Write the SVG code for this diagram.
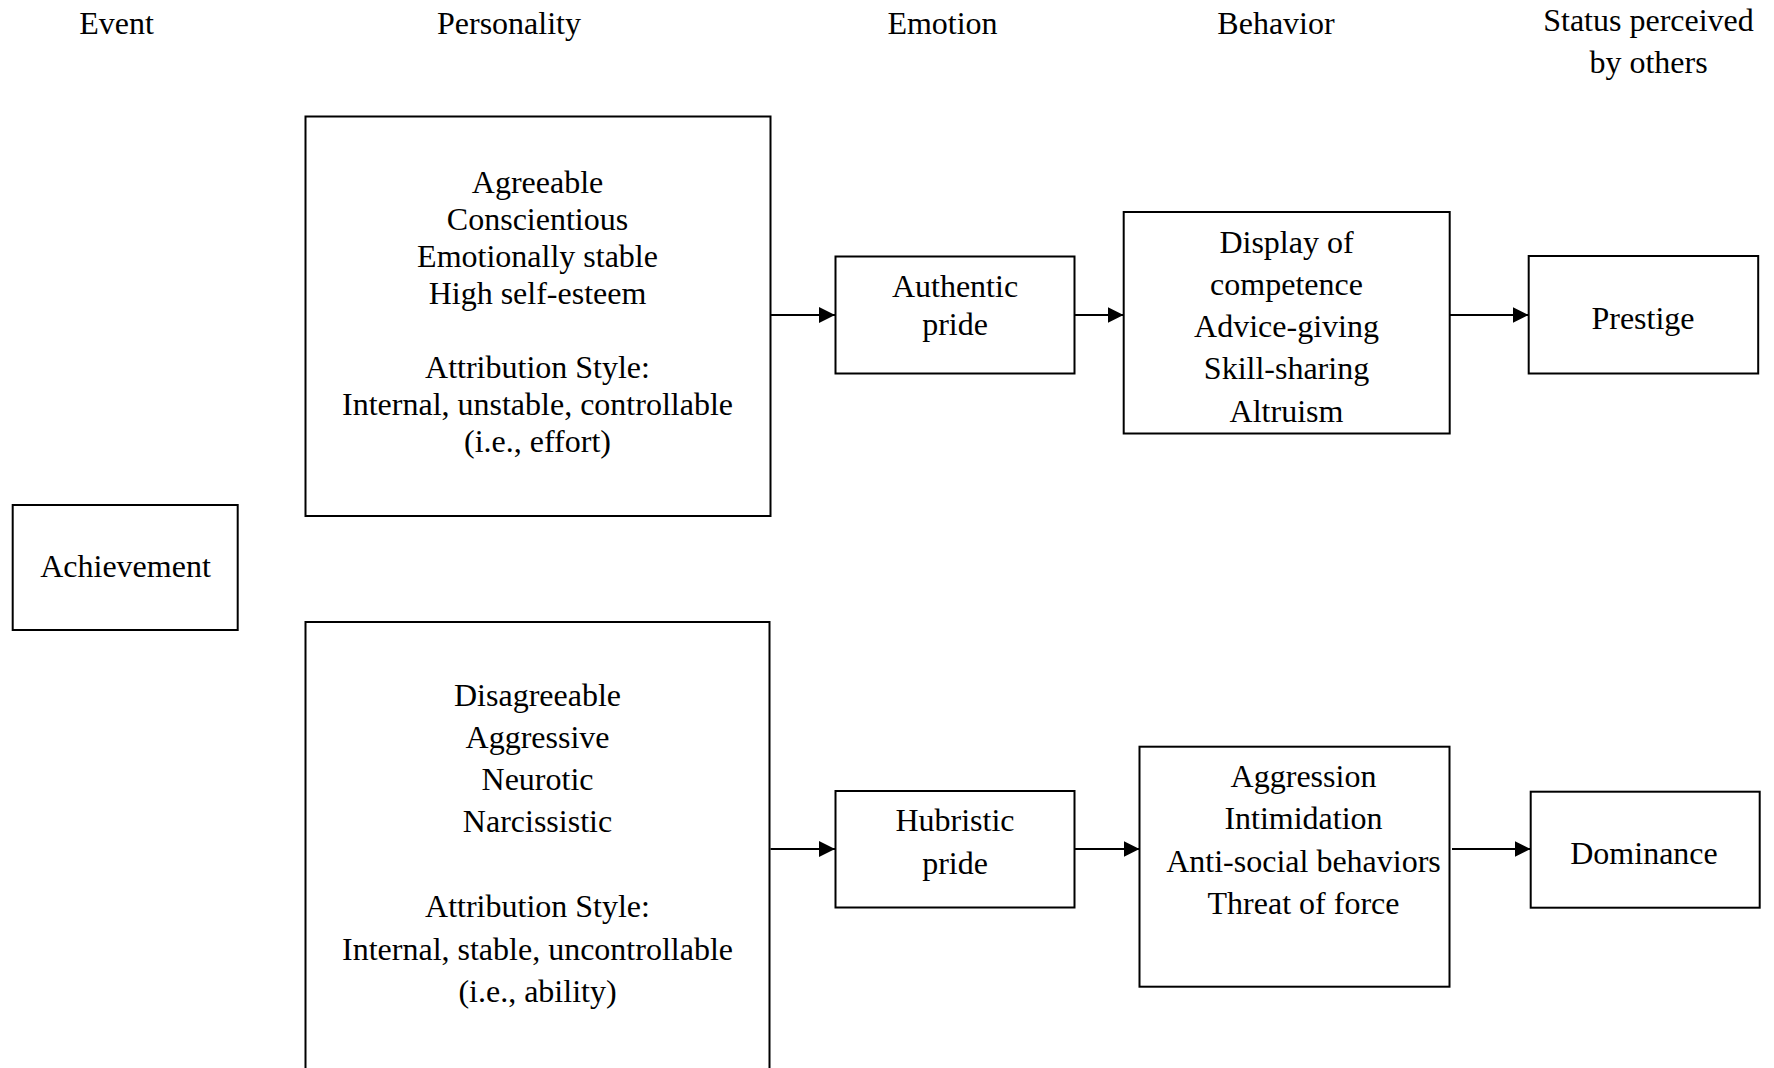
<svg xmlns="http://www.w3.org/2000/svg" width="1774" height="1068" viewBox="0 0 1774 1068">
<style>
text{font-family:"Liberation Serif","Times New Roman",serif;font-size:32px;fill:#000;text-anchor:middle}
.box{fill:#fff;stroke:#000;stroke-width:2}
.conn{stroke:#000;stroke-width:2;fill:none}
</style>
<defs>
<marker id="arr" markerUnits="userSpaceOnUse" markerWidth="17" markerHeight="17" refX="16" refY="8.5" orient="auto">
<path d="M0,0.5 L16,8.5 L0,16.5 Z" fill="#000"/>
</marker>
</defs>
<rect width="1774" height="1068" fill="#fff"/>
<g id="headers">
<text x="116.5" y="33.5">Event</text>
<text x="509" y="33.5">Personality</text>
<text x="942.5" y="33.5">Emotion</text>
<text x="1276" y="33.5">Behavior</text>
<text x="1648.5" y="31">Status perceived</text>
<text x="1648.5" y="73">by others</text>
</g>
<g id="connectors">
<line class="conn" x1="770.5" y1="315" x2="835" y2="315" marker-end="url(#arr)"/>
<line class="conn" x1="1075" y1="315" x2="1123.5" y2="315" marker-end="url(#arr)"/>
<line class="conn" x1="1450" y1="315" x2="1528.5" y2="315" marker-end="url(#arr)"/>
<line class="conn" x1="770.5" y1="849" x2="835" y2="849" marker-end="url(#arr)"/>
<line class="conn" x1="1075" y1="849" x2="1139.5" y2="849" marker-end="url(#arr)"/>
<line class="conn" x1="1452" y1="849" x2="1530.5" y2="849" marker-end="url(#arr)"/>
</g>
<g id="achievement">
<rect class="box" x="12.7" y="505" width="225" height="125"/>
<text x="125.5" y="577">Achievement</text>
</g>
<g id="personality-top">
<rect class="box" x="305.5" y="116.5" width="465" height="399.5"/>
<text x="537.5" y="192.5">Agreeable</text>
<text x="537.5" y="229.5">Conscientious</text>
<text x="537.5" y="266.5">Emotionally stable</text>
<text x="537.5" y="303.5">High self-esteem</text>
<text x="537.5" y="377.5">Attribution Style:</text>
<text x="537.5" y="414.5">Internal, unstable, controllable</text>
<text x="537.5" y="451.5">(i.e., effort)</text>
</g>
<g id="personality-bottom">
<rect class="box" x="305.5" y="622" width="464" height="460"/>
<text x="537.5" y="705.5">Disagreeable</text>
<text x="537.5" y="747.5">Aggressive</text>
<text x="537.5" y="789.5">Neurotic</text>
<text x="537.5" y="832">Narcissistic</text>
<text x="537.5" y="917">Attribution Style:</text>
<text x="537.5" y="959.5">Internal, stable, uncontrollable</text>
<text x="537.5" y="1001.5">(i.e., ability)</text>
</g>
<g id="authentic-pride">
<rect class="box" x="835.5" y="256.5" width="239" height="117"/>
<text x="955" y="297">Authentic</text>
<text x="955" y="334.5">pride</text>
</g>
<g id="hubristic-pride">
<rect class="box" x="835.5" y="791" width="239" height="116.5"/>
<text x="955" y="831">Hubristic</text>
<text x="955" y="874">pride</text>
</g>
<g id="behavior-top">
<rect class="box" x="1123.7" y="212" width="326" height="221.5"/>
<text x="1286.5" y="253">Display of</text>
<text x="1286.5" y="294.5">competence</text>
<text x="1286.5" y="336.5">Advice-giving</text>
<text x="1286.5" y="378.5">Skill-sharing</text>
<text x="1286.5" y="421.5">Altruism</text>
</g>
<g id="behavior-bottom">
<rect class="box" x="1139.5" y="746.7" width="310" height="240"/>
<text x="1303.5" y="787">Aggression</text>
<text x="1303.5" y="828.5">Intimidation</text>
<text x="1303.5" y="871.5">Anti-social behaviors</text>
<text x="1303.5" y="913.5">Threat of force</text>
</g>
<g id="prestige">
<rect class="box" x="1528.7" y="256" width="229.5" height="117.5"/>
<text x="1643" y="328.5">Prestige</text>
</g>
<g id="dominance">
<rect class="box" x="1530.7" y="791.7" width="229" height="116"/>
<text x="1644" y="863.5">Dominance</text>
</g>
</svg>
